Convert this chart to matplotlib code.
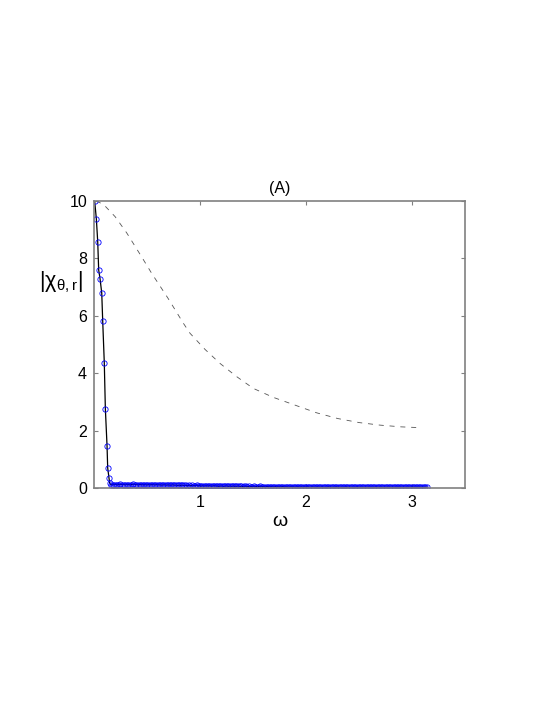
import numpy as np
import matplotlib
matplotlib.use("Agg")
import matplotlib.pyplot as plt

plt.rcParams["font.family"] = ["Liberation Sans", "DejaVu Sans"]
plt.rcParams["mathtext.fontset"] = "custom"
plt.rcParams["mathtext.rm"] = "Liberation Sans"

# ── Data ───────────────────────────────────────────────────────────────────────
# estimated response |chi| (black line + blue circles): steep drop, then flat tail
omega_head = [0.006, 0.022, 0.035, 0.044, 0.057, 0.073, 0.082, 0.097,
              0.107, 0.123, 0.129, 0.142, 0.148]
chi_head = [10.0, 9.38, 8.58, 7.60, 7.29, 6.79, 5.82, 4.36,
            2.76, 1.46, 0.70, 0.34, 0.16]

omega_tail = np.linspace(0.16, 3.14, 200)
chi_tail = [0.12, 0.11, 0.12, 0.12, 0.11, 0.12, 0.13, 0.12, 0.12, 0.11,
            0.12, 0.12, 0.11, 0.12, 0.13, 0.12, 0.12, 0.11, 0.12, 0.12,
            0.11, 0.12, 0.11, 0.11, 0.12, 0.11, 0.12, 0.11, 0.11, 0.12,
            0.11, 0.11, 0.10, 0.11, 0.11, 0.10, 0.11, 0.10, 0.10, 0.11,
            0.10, 0.10, 0.09, 0.10, 0.09, 0.10, 0.09, 0.09, 0.08, 0.09,
            0.08, 0.09, 0.08, 0.08, 0.09, 0.08, 0.08, 0.07, 0.08, 0.07,
            0.08, 0.07, 0.08, 0.07, 0.07, 0.08, 0.07, 0.07, 0.06, 0.07,
            0.07, 0.06, 0.07, 0.07, 0.06, 0.07, 0.06, 0.07, 0.06, 0.06,
            0.07, 0.06, 0.06, 0.05, 0.06, 0.06, 0.05, 0.06, 0.05, 0.05,
            0.06, 0.05, 0.05, 0.05, 0.06, 0.05, 0.05, 0.04, 0.05, 0.05,
            0.04, 0.05, 0.04, 0.04, 0.05, 0.04, 0.04, 0.04, 0.05, 0.04,
            0.04, 0.04, 0.03, 0.04, 0.04, 0.04, 0.03, 0.04, 0.04, 0.03,
            0.04, 0.03, 0.04, 0.03, 0.04, 0.03, 0.03, 0.04, 0.03, 0.03,
            0.04, 0.03, 0.03, 0.04, 0.03, 0.03, 0.03, 0.04, 0.03, 0.03,
            0.03, 0.03, 0.04, 0.03, 0.03, 0.03, 0.03, 0.03, 0.04, 0.03,
            0.03, 0.03, 0.03, 0.03, 0.03, 0.04, 0.03, 0.03, 0.03, 0.03,
            0.03, 0.03, 0.03, 0.03, 0.03, 0.03, 0.03, 0.04, 0.03, 0.03,
            0.03, 0.03, 0.03, 0.03, 0.03, 0.03, 0.03, 0.03, 0.03, 0.03,
            0.03, 0.03, 0.03, 0.03, 0.03, 0.03, 0.03, 0.03, 0.03, 0.03,
            0.03, 0.03, 0.03, 0.03, 0.03, 0.03, 0.03, 0.03, 0.03, 0.03]

# true response (dashed)
omega_true = [0.02, 0.09, 0.20, 0.31, 0.45, 0.544, 0.70, 0.843, 0.906, 1.047,
              1.189, 1.346, 1.503, 1.69, 1.94, 2.10, 2.30, 2.50, 2.70, 2.90, 3.09]
chi_true = [10.0, 9.88, 9.45, 8.88, 8.05, 7.48, 6.60, 5.74, 5.39, 4.83,
            4.34, 3.88, 3.47, 3.16, 2.83, 2.62, 2.42, 2.28, 2.19, 2.13, 2.10]

omega_est = list(omega_head) + list(omega_tail)
chi_est = list(chi_head) + list(chi_tail)

# ── Figure ─────────────────────────────────────────────────────────────────────
fig = plt.figure(figsize=(5.45, 7.05), dpi=100)
ax = fig.add_axes([0.1725, 0.3078, 0.6807, 0.4071])

ax.plot(omega_true, chi_true, color="#555555", lw=0.6, dashes=(6, 7))
ax.plot(omega_est, chi_est, color="black", lw=0.9)
ax.plot(omega_est, chi_est, "o", mfc="none", mec="#0000ff", mew=0.6, ms=3.8)

ax.set_xlim(0, 3.5)
ax.set_ylim(0, 10)
ax.set_xticks([1, 2, 3])
ax.set_yticks([0, 2, 4, 6, 8, 10])
ax.tick_params(direction="in", top=True, right=True, length=3,
               color="#808080", labelsize=11.5, pad=5)
for sp in ax.spines.values():
    sp.set_color("#808080")
    sp.set_linewidth(1.2)

ax.set_title("(A)", fontsize=11.5, pad=6)
ax.set_xlabel("ω", fontsize=14, labelpad=2)
fig.text(0.072, 0.600, r"$\mathrm{|\chi_{\theta,r}|}$", fontsize=15.5,
         ha="left", va="center")

fig.savefig("out.png", dpi=100)
